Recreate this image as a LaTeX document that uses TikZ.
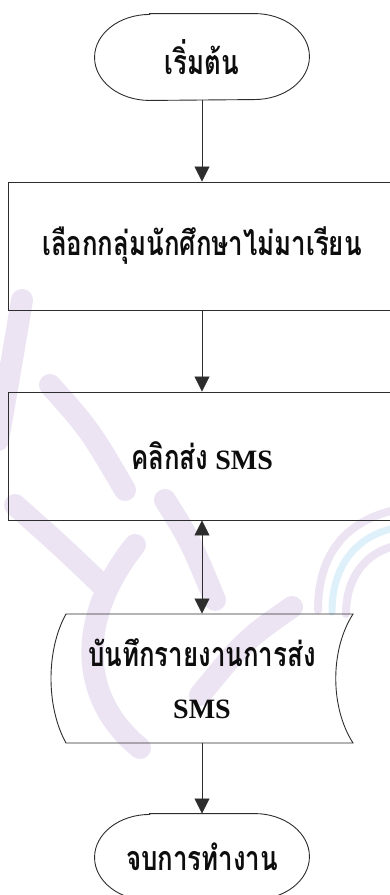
\documentclass[tikz,border=0pt]{standalone}
\usepackage{fontspec}
\setmainfont{Liberation Serif}
\newfontfamily\thaifont[Script=Thai,FakeStretch=0.76]{Loma}
\usetikzlibrary{arrows.meta,calc}
\definecolor{wmpurple}{RGB}{236,228,243}
\definecolor{wmblue}{RGB}{222,240,249}
\definecolor{inkline}{RGB}{45,45,45}
\newcommand{\thaitext}[1]{{\thaifont\fontsize{34}{50}\selectfont #1}}
% terminal outline: straight top and bottom, elliptical ends
\newcommand{\terminal}[1]{%
  \draw[inkline, line width=0.9pt]
    ($(#1.north west)+(55,0)$) -- ($(#1.north east)+(-55,0)$)
    arc[start angle=90, end angle=-90, x radius=55pt, y radius=43pt]
    -- ($(#1.south west)+(55,0)$)
    arc[start angle=270, end angle=90, x radius=55pt, y radius=43pt]
    -- cycle;}
\begin{document}
\begin{tikzpicture}[x=1pt,y=-1pt,
  flow/.style={draw=inkline, line width=0.9pt, text=black!95,
    font=\fontsize{28}{52}\selectfont\bfseries},
  term/.style={flow, draw=none, minimum width=214pt,
    minimum height=86pt, inner sep=0pt},
  procbox/.style={flow, minimum width=388pt, minimum height=128pt, inner sep=0pt},
  link/.style={draw=inkline, line width=0.8pt, -{Triangle[length=15pt,width=15pt]}},
  twoway/.style={draw=inkline, line width=0.8pt,
    {Triangle[length=15pt,width=15pt]}-{Triangle[length=15pt,width=15pt]}},
  wm/.style={line width=22pt, line cap=round, draw=wmpurple},
  wmb/.style={line width=7pt, line cap=round, draw=wmblue}
]
\useasboundingbox (0,0) rectangle (389,895);
\fill[white] (0,0) rectangle (389,895);

% faint logo in the background
\draw[wm] (22,300) .. controls (12,360) .. (-2,440);
\draw[wm] (50,385) .. controls (90,430) .. (125,490);
\draw[wm] (15,505) .. controls (60,545) .. (105,588);
\draw[wm] (165,500) .. controls (190,540) .. (215,600);
\draw[wm] (135,545) .. controls (75,620) and (80,700) .. (140,748);
\draw[wm] (292,607) .. controls (245,640) .. (200,695);
\draw[wm, line width=8pt] (318,610) .. controls (318,550) and (350,520) .. (395,510);
\draw[wmb] (332,612) .. controls (332,562) and (360,535) .. (395,528);
\draw[wm, line width=8pt] (346,614) .. controls (346,575) and (368,552) .. (395,546);

% flow steps
\node[term] (start) at (202,57) {\thaitext{เริ่มต้น}};
\terminal{start}
\node[procbox] (pick) at (202,246) {\thaitext{เลือกกลุ่มนักศึกษาไม่มาเรียน}};
\node[procbox] (send) at (202,456) {\thaitext{คลิกส่ง} SMS};
\node[flow, draw=none, minimum width=302pt, minimum height=129pt,
  inner sep=0pt, align=center] (log) at (202,678.5)
  {\thaitext{บันทึกรายงานการส่ง}\\ SMS};
\draw[inkline, line width=0.9pt] (66,614) -- (353,614)
  .. controls (330,650) and (330,707) .. (353,743) -- (66,743)
  .. controls (46,707) and (46,650) .. cycle;
\node[term] (finish) at (202,857) {\thaitext{จบการทำงาน}};
\terminal{finish}

% connectors
\draw[link] (start) -- (pick);
\draw[link] (pick) -- (send);
\draw[twoway] (send) -- (log);
\draw[link] (log) -- (finish);
\end{tikzpicture}
\end{document}
